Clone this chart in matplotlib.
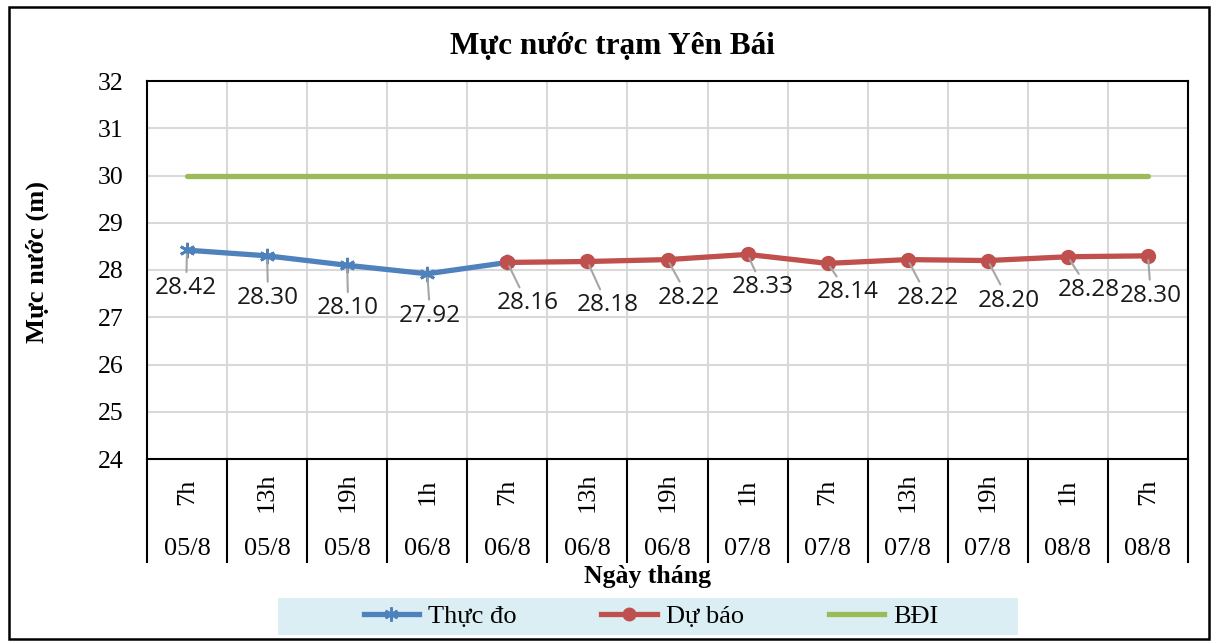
import numpy as np
import matplotlib
matplotlib.use("Agg")
import matplotlib.pyplot as plt
import matplotlib.patches as patches
from matplotlib.lines import Line2D

# data
hours = ["7h", "13h", "19h", "1h", "7h", "13h", "19h", "1h", "7h", "13h", "19h", "1h", "7h"]
dates = ["05/8", "05/8", "05/8", "06/8", "06/8", "06/8", "06/8", "07/8", "07/8", "07/8", "07/8", "08/8", "08/8"]
thuc_do = [28.42, 28.30, 28.10, 27.92, 28.16]          # observed, idx 0-4
du_bao = [28.16, 28.18, 28.22, 28.33, 28.14, 28.22, 28.20, 28.28, 28.30]  # forecast, idx 4-12
bdi = [30.0] * 13
label_vals = [28.42, 28.30, 28.10, 27.92, 28.16, 28.18, 28.22, 28.33, 28.14, 28.22, 28.20, 28.28, 28.30]

# label offsets in pixels (layout only)
lab_off = [(-1, -38), (1, -42), (1, -43), (3, -42), (20, -41), (20, -44), (21, -38),
           (15, -33), (20, -29), (20, -38), (21, -40), (21, -33), (3, -40)]

blue = '#4F81BD'
red = '#C0504D'
green = '#9BBB59'
serif = 'Liberation Serif'

fig = plt.figure(figsize=(12.15, 6.44), dpi=100)
ax = fig.add_axes([147/1215, 1-459/644, 1041/1215, 378/644])

n = len(hours)
x = np.arange(n)

ax.plot(x, bdi, color=green, lw=3.8, solid_capstyle='round', zorder=3)
ax.plot(x[:len(thuc_do)], thuc_do, color=blue, lw=3.8, marker=(6, 2, 0), ms=11,
        mec=blue, mew=2, zorder=4)
ax.plot(x[4:], du_bao, color=red, lw=3.8, marker='o', ms=10, mec=red, mfc=red, zorder=5)

for i, v in enumerate(label_vals):
    ax.annotate(f"{v:.2f}", xy=(i, v), xytext=lab_off[i], textcoords='offset pixels',
                ha='center', va='center', fontsize=17.5, family='Open Sans', color='#1a1a1a',
                arrowprops=dict(arrowstyle='-', color='#A6A6A6', lw=1.5, shrinkA=1, shrinkB=3),
                zorder=6)

ax.set_xlim(-0.5, n - 0.5)
ax.set_ylim(24, 32)
ax.set_yticks(range(24, 33))
ax.set_yticklabels([str(t) for t in range(24, 33)], family=serif, fontsize=18.5)
ax.tick_params(axis='y', length=0, pad=17)
ax.set_xticks([])

# grid
for k in range(25, 32):
    ax.axhline(k, color='#D9D9D9', lw=1.5, zorder=1)
for k in range(1, n):
    ax.axvline(k - 0.5, color='#D9D9D9', lw=1.5, zorder=1)

for s in ax.spines.values():
    s.set_color('black')
    s.set_linewidth(1.5)

# category table under the axis
trans = ax.get_xaxis_transform()
for k in range(n + 1):
    ax.plot([k - 0.5, k - 0.5], [0, -0.2725], transform=trans, color='black', lw=1.5, clip_on=False)
for i in range(n):
    ax.text(i, -0.087, hours[i], transform=trans, rotation=90, ha='center', va='center',
            family=serif, fontsize=19)
    ax.text(i, -0.238, dates[i], transform=trans, ha='center', va='center',
            family=serif, fontsize=19)

fig.text(648/1215, 1-577/644, "Ngày tháng", ha='center', va='center', family=serif,
         fontsize=18.5, fontweight='bold')
fig.text(612/1215, 1-46/644, "Mực nước trạm Yên Bái", ha='center', va='center', family=serif,
         fontsize=22.5, fontweight='bold')
fig.text(37/1215, 1-262/644, "Mực nước (m)", ha='center', va='center', rotation=90,
         family=serif, fontsize=19, fontweight='bold')

# legend background
fig.patches.append(patches.Rectangle((278/1215, 1-635/644), 740/1215, 37/644,
                                     transform=fig.transFigure, facecolor='#DAEEF3',
                                     edgecolor='none', zorder=0))
handles = [Line2D([], [], color=blue, lw=3.8, marker=(6, 2, 0), ms=10, mew=2),
           Line2D([], [], color=red, lw=3.8, marker='o', ms=9),
           Line2D([], [], color=green, lw=3.8)]
fig.legend(handles, ["Thực đo", "Dự báo", "BĐI"], loc='center', bbox_to_anchor=(651/1215, 1-616/644),
           ncol=3, frameon=False, prop={'family': serif, 'size': 19}, handlelength=2.1,
           handletextpad=0.35, columnspacing=3.2)

# outer frame
fig.patches.append(patches.Rectangle((9/1215, 1-639/644), 1200/1215, 632/644,
                                     transform=fig.transFigure, facecolor='none',
                                     edgecolor='black', lw=1.8, zorder=0))

fig.savefig("out.png", dpi=100)
